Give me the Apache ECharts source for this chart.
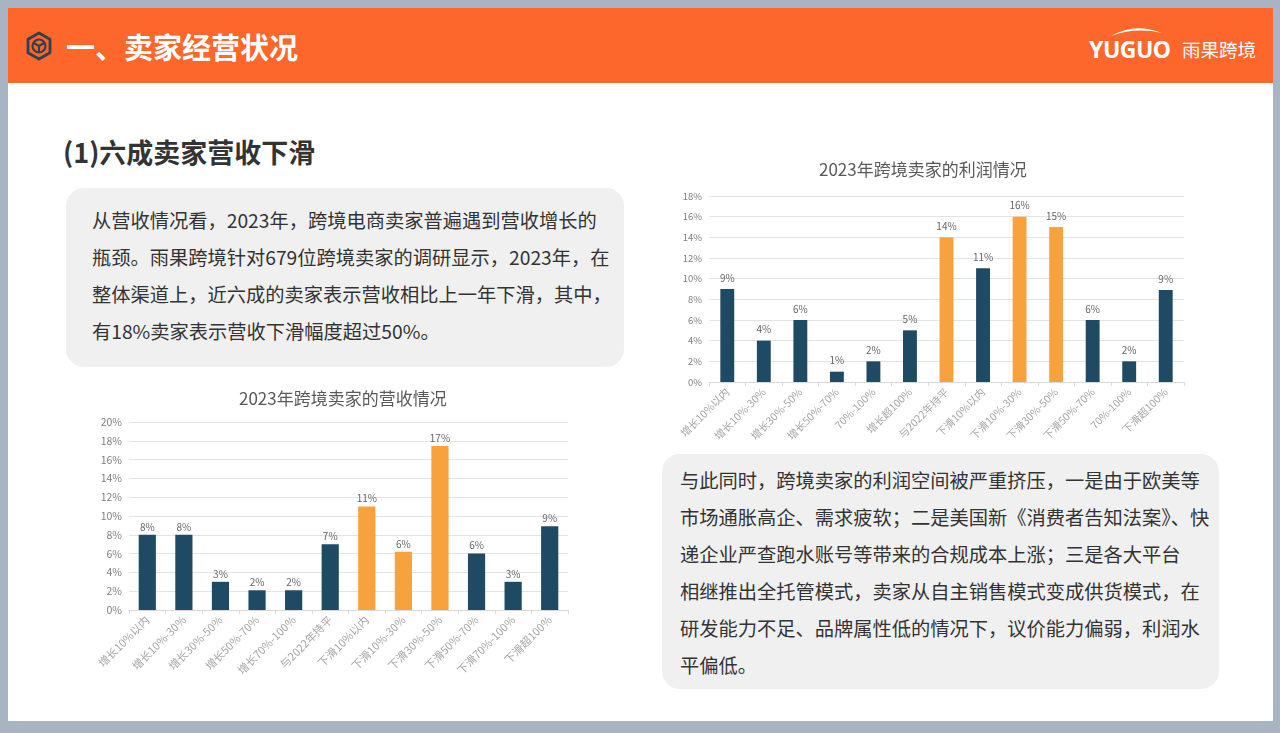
<!DOCTYPE html>
<html>
<head>
<meta charset="utf-8">
<script src="https://cdn.jsdelivr.net/npm/echarts@6/dist/echarts.min.js"></script>
<style>
  html, body { margin:0; padding:0; width:1280px; height:733px; overflow:hidden; background:#a8b4c1; font-family:"Noto Sans CJK SC","Noto Sans",sans-serif; }
  #page { position:absolute; left:8px; top:8px; width:1265px; height:713px; background:#ffffff; }
  #header { position:absolute; left:8px; top:8px; width:1265px; height:75px; background:#fd672c; }
  #htitle { position:absolute; left:66px; top:26px; height:40px; line-height:40px; font-size:29px; font-weight:bold; color:#ffffff; white-space:nowrap; }
  #logo1 { position:absolute; left:1089px; top:35px; line-height:28px; font-family:"Noto Sans","Open Sans",sans-serif; font-size:23px; font-weight:bold; color:#ffffff; letter-spacing:-0.5px; }
  #logo2 { position:absolute; left:1182px; top:36px; line-height:26px; font-size:18.5px; color:#ffffff; }
  #sub { position:absolute; left:63px; top:134px; line-height:36px; font-size:27px; font-weight:bold; color:#333333; white-space:nowrap; }
  .box { position:absolute; background:#f0f0f0; border-radius:18px; color:#333333; font-size:19.25px; line-height:37px; white-space:nowrap; box-sizing:border-box; }
  #box1 { left:66px; top:188px; width:558px; height:179px; padding:14px 0 0 26px; }
  #box2 { left:662px; top:454px; width:557px; height:235px; padding:8px 0 0 18px; }
  #chart { position:absolute; left:0; top:0; width:1280px; height:733px; }
</style>
</head>
<body>
<div id="page"></div>
<div id="header"></div>
<svg style="position:absolute;left:25px;top:31px" width="28" height="30" viewBox="0 0 28 30">
  <polygon points="14,2 25,8.3 25,21.7 14,28 3,21.7 3,8.3" fill="none" stroke="#34404f" stroke-width="2.8" stroke-linejoin="round"/>
  <circle cx="14" cy="15" r="6.5" fill="none" stroke="#34404f" stroke-width="2.2"/>
  <path d="M14,15 L14,21.5 M14,15 L8.4,11.8 M14,15 L19.6,11.8" stroke="#34404f" stroke-width="2.2" fill="none"/>
</svg>
<div id="htitle">一、卖家经营状况</div>
<svg style="position:absolute;left:1108px;top:24px" width="58" height="14" viewBox="0 0 58 14">
  <path d="M3,12 Q27,-2 54,9 Q28,3 3,12 Z" fill="#ffffff"/>
</svg>
<div id="logo1">YUGUO</div>
<div id="logo2">雨果跨境</div>
<div id="sub">(1)六成卖家营收下滑</div>
<div class="box" id="box1">从营收情况看，2023年，跨境电商卖家普遍遇到营收增长的<br>瓶颈。雨果跨境针对679位跨境卖家的调研显示，2023年，在<br>整体渠道上，近六成的卖家表示营收相比上一年下滑，其中，<br>有18%卖家表示营收下滑幅度超过50%。</div>
<div class="box" id="box2">与此同时，跨境卖家的利润空间被严重挤压，一是由于欧美等<br>市场通胀高企、需求疲软；二是美国新《消费者告知法案》、快<br>递企业严查跑水账号等带来的合规成本上涨；三是各大平台<br>相继推出全托管模式，卖家从自主销售模式变成供货模式，在<br>研发能力不足、品牌属性低的情况下，议价能力偏弱，利润水<br>平偏低。</div>
<div id="chart"></div>
<script>
// ---- data ----
const revenueTitle = '2023年跨境卖家的营收情况';
const revenueCategories = ['增长10%以内','增长10%-30%','增长30%-50%','增长50%-70%','增长70%-100%','与2022年持平','下滑10%以内','下滑10%-30%','下滑30%-50%','下滑50%-70%','下滑70%-100%','下滑超100%'];
const revenueValues = [8, 8, 3, 2.1, 2.1, 7, 11, 6.2, 17.45, 6, 3, 8.9];
const revenueHighlight = ['下滑10%以内','下滑10%-30%','下滑30%-50%'];

const profitTitle = '2023年跨境卖家的利润情况';
const profitCategories = ['增长10%以内','增长10%-30%','增长30%-50%','增长50%-70%','70%-100%','增长超100%','与2022年持平','下滑10%以内','下滑10%-30%','下滑30%-50%','下滑50%-70%','70%-100%','下滑超100%'];
const profitValues = [9, 4, 6, 1, 2, 5, 14, 11, 16, 15, 6, 2, 8.9];
const profitHighlight = [6, 8, 9];

// ---- styles ----
const NAVY = '#1f4a63';
const ORANGE = '#f7a23c';
const FONT = '"Noto Sans CJK SC","Noto Sans",sans-serif';

const chart = echarts.init(document.getElementById('chart'), null, {renderer:'canvas'});

function yAxis(max, fs, gi) {
  return {
    type:'value', gridIndex:gi, min:0, max:max, interval:2,
    axisLine:{show:false}, axisTick:{show:false},
    axisLabel:{formatter:'{value}%', fontSize:fs, color:'#7f7f7f', margin:7, fontFamily:FONT},
    splitLine:{lineStyle:{color:'#e3e3e3', width:1}}
  };
}
function xAxis(cats, fs, gi) {
  return {
    type:'category', gridIndex:gi, data:cats,
    axisLine:{lineStyle:{color:'#d9d9d9'}},
    axisTick:{show:true, length:4, lineStyle:{color:'#d9d9d9'}},
    axisLabel:{interval:0, rotate:45, fontSize:fs, color:'#a6a6a6', margin:8, fontFamily:FONT}
  };
}

chart.setOption({
  animation:false,
  grid:[
    {left:129, top:422, width:439, height:188},
    {left:709, top:196, width:475, height:186}
  ],
  xAxis:[xAxis(revenueCategories, 11, 0), xAxis(profitCategories, 10.5, 1)],
  yAxis:[yAxis(20, 10.5, 0), yAxis(18, 9.5, 1)],
  graphic:[
    {type:'text', left:343 - 104, top:390, style:{text:revenueTitle, fontSize:17, fill:'#595959', fontFamily:FONT}},
    {type:'text', left:922 - 103, top:161, style:{text:profitTitle, fontSize:17, fill:'#595959', fontFamily:FONT}}
  ],
  series:[
    {
      type:'bar', xAxisIndex:0, yAxisIndex:0, data:revenueValues, barWidth:'47%',
      itemStyle:{color:p => revenueHighlight.includes(revenueCategories[p.dataIndex]) ? ORANGE : NAVY},
      label:{show:true, position:'top', distance:3, fontSize:10, color:'#666666', fontFamily:FONT,
        formatter:p => Math.round(p.value) + '%'}
    },
    {
      type:'bar', xAxisIndex:1, yAxisIndex:1, data:profitValues, barWidth:'38%',
      itemStyle:{color:p => profitHighlight.includes(p.dataIndex) ? ORANGE : NAVY},
      label:{show:true, position:'top', distance:6, fontSize:10, color:'#666666', fontFamily:FONT,
        formatter:p => Math.round(p.value) + '%'}
    }
  ]
});
</script>
</body>
</html>
